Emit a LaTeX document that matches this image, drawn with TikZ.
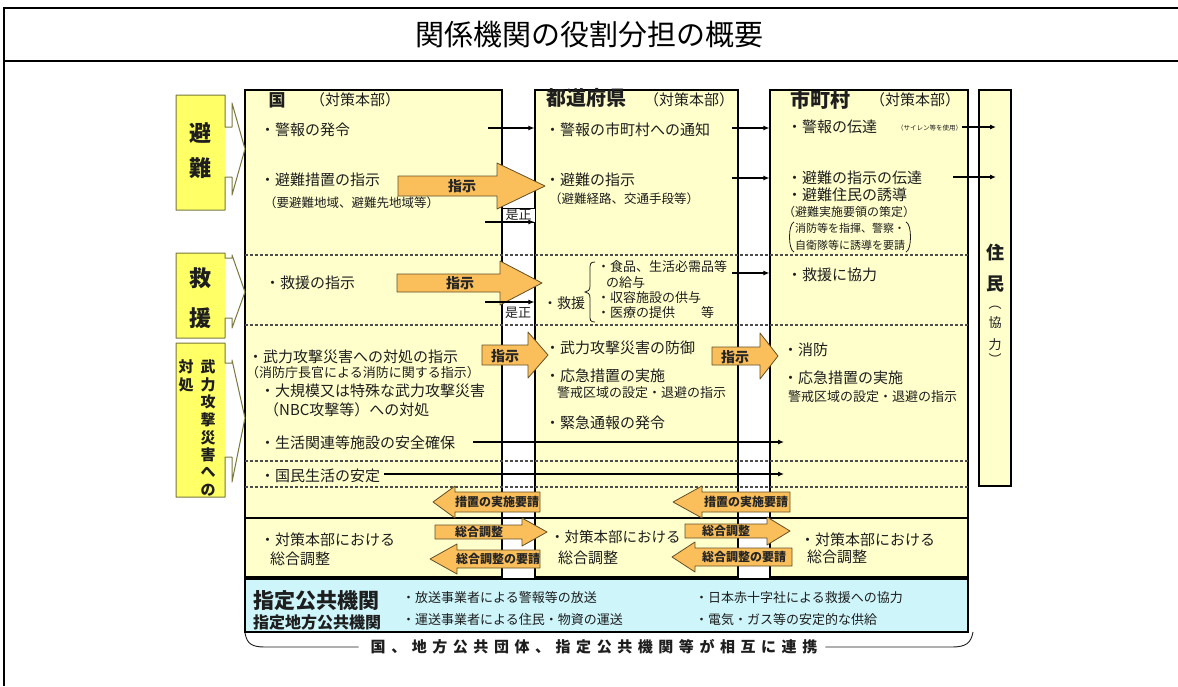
\documentclass[tikz,border=0pt]{standalone}
\usepackage{fontspec}
\setmainfont{Noto Sans CJK JP}
\usetikzlibrary{arrows.meta}
\definecolor{colfill}{RGB}{255,255,204}
\definecolor{lblfill}{RGB}{255,255,102}
\definecolor{lbldraw}{RGB}{120,120,60}
\definecolor{orfill}{RGB}{250,190,90}
\definecolor{ordraw}{RGB}{100,80,40}
\definecolor{bluefill}{RGB}{205,245,250}
\definecolor{ink}{RGB}{30,30,30}
\newcommand{\fsz}[1]{\fontsize{#1}{#1}\selectfont}
% tail x, head-base x, tip x, centre y, shaft half, head half
\newcommand{\orar}[6]{%
  \path[orarrow] (#1,#4-#5) -- (#2,#4-#5) -- (#2,#4-#6) -- (#3,#4) -- (#2,#4+#6) -- (#2,#4+#5) -- (#1,#4+#5) -- cycle;}
% top, bottom, shaft top, shaft bottom, head top, head bottom, tip y
\newcommand{\callout}[7]{%
  \fill[white] (225,#3) -- (232,#3) -- (232,#5) -- (245,#7) -- (232,#6) -- (232,#4) -- (225,#4) -- cycle;
  \fill[lblfill] (176,#1) rectangle (225,#2);
  \draw[lbldraw, line width=1pt, line join=round] (176,#1) -- (225,#1) -- (225,#3) -- (232,#3) -- (232,#5) -- (245,#7) -- (232,#6) -- (232,#4) -- (225,#4) -- (225,#2) -- (176,#2) -- cycle;}
\begin{document}
\begin{tikzpicture}[x=1pt,y=-1pt,
  txt/.style={anchor=west, inner sep=0pt, text=ink, font=\fsz{15}},
  sm/.style={txt, font=\fsz{12.5}},
  hdr/.style={inner sep=0pt, text=ink, font=\bfseries\fsz{20}},
  lbl/.style={inner sep=0pt, text=ink, font=\bfseries\fsz{22}},
  lbls/.style={inner sep=0pt, text=ink, font=\bfseries\fsz{15}},
  colbox/.style={draw=black, line width=1.1pt, fill=colfill, inner sep=0pt},
  sepline/.style={draw=black!70, line width=1.2pt, dash pattern=on 3pt off 2pt},
  conn/.style={draw=black, line width=1.1pt, -{Latex[length=6pt,width=5pt]}},
  orarrow/.style={fill=orfill, draw=ordraw, line width=0.8pt, line join=round},
  ortext/.style={inner sep=0pt, text=black!85, font=\bfseries\fsz{12.5}},
]
\useasboundingbox (0,0) rectangle (1178,686);
\fill[white] (0,0) rectangle (1178,686);
% frame
\draw[line width=2pt] (3,8) -- (1178,8);
\draw[line width=2pt] (3,61) -- (1178,61);
\draw[line width=2pt] (4,7) -- (4,686);
\node[inner sep=0pt, font=\fsz{29}] (title) at (589,35) {関係機関の役割分担の概要};

% columns
\node[colbox, minimum width=257pt, minimum height=487pt] (kuni) at (373.5,333.5) {};
\node[colbox, minimum width=203pt, minimum height=487pt] (todo) at (636.5,333.5) {};
\node[colbox, minimum width=198pt, minimum height=487pt] (shi) at (869,333.5) {};
\node[colbox, minimum width=32pt, minimum height=396pt] (jumin) at (995,288) {};
\node[draw=black, line width=1.1pt, fill=bluefill, minimum width=723pt, minimum height=53pt, inner sep=0pt] (kikan) at (606.5,605.5) {};

% row separators
\foreach \yy in {255,325,461,487} \draw[sepline] (245,\yy) -- (968,\yy);
\draw[line width=1.1pt] (245,518) -- (968,518);

% left labels
\callout{95}{210}{127}{177}{103}{195}{149}
\node[lbl] (hin1) at (200,133) {避};
\node[lbl] (hin2) at (200,168) {難};
\callout{253}{338}{258}{318}{255}{328}{292}
\node[lbl] (kyu1) at (200,278) {救};
\node[lbl] (kyu2) at (200,318) {援};
\callout{343}{497}{363}{457}{360}{482}{418}
\node[lbls] (tai1) at (186,367) {対};
\node[lbls] (tai2) at (186,385) {処};
\foreach \c [count=\i from 0] in {武,力,攻,撃,災,害,へ,の}
  \node[lbls] (bu\i) at (208,367+17.6*\i) {\c};

% 国 column
\node[hdr, font=\bfseries\fsz{17}] (kh1) at (277,100) {国};
\node[inner sep=0pt, text=ink, font=\fsz{15}] (kh2) at (355,100) {（対策本部）};
\node[txt] (k1) at (260,130) {・警報の発令};
\node[txt] (k2) at (260,180) {・避難措置の指示};
\node[sm] (k2s) at (264,203) {（要避難地域、避難先地域等）};
\node[txt] (k3) at (265,283) {・救援の指示};
\node[txt] (k4) at (248,357) {・武力攻撃災害への対処の指示};
\node[sm, font=\fsz{13}] (k4s) at (246,373) {（消防庁長官による消防に関する指示）};
\node[txt] (k5) at (260,391) {・大規模又は特殊な武力攻撃災害};
\node[txt] (k5s) at (264,410) {（NBC攻撃等）への対処};
\node[txt] (k6) at (260,443) {・生活関連等施設の安全確保};
\node[txt] (k7) at (260,476) {・国民生活の安定};
\node[txt] (k8) at (260,540) {・対策本部における};
\node[txt] (k8b) at (270,559) {総合調整};

% 都道府県 column
\node[hdr] (th1) at (586,98) {都道府県};
\node[inner sep=0pt, text=ink, font=\fsz{15}] (th2) at (689,100) {（対策本部）};
\node[txt] (t1) at (545,130) {・警報の市町村への通知};
\node[txt] (t2) at (545,180) {・避難の指示};
\node[sm] (t2s) at (549,199) {（避難経路、交通手段等）};
\node[txt, font=\fsz{14}] (t3) at (543,303) {・救援};
\draw[ink, line width=0.8pt] (595,262) .. controls (590,262) and (590,264) .. (590,270) -- (590,286) .. controls (590,290) and (588,292) .. (585,292) .. controls (588,292) and (590,294) .. (590,298) -- (590,315) .. controls (590,320) and (590,322) .. (595,322);
\node[txt, font=\fsz{13}] (t3a) at (597,267) {・食品、生活必需品等};
\node[txt, font=\fsz{13}] (t3b) at (606,283) {の給与};
\node[txt, font=\fsz{13}] (t3c) at (597,298) {・収容施設の供与};
\node[txt, font=\fsz{13}] (t3d) at (597,313) {・医療の提供　　等};
\node[txt] (t4) at (545,348) {・武力攻撃災害の防御};
\node[txt] (t5) at (545,376) {・応急措置の実施};
\node[txt, font=\fsz{13}] (t5s) at (557,393) {警戒区域の設定・退避の指示};
\node[txt] (t6) at (545,423) {・緊急通報の発令};
\node[txt, font=\fsz{14.5}] (t7) at (550,537) {・対策本部における};
\node[txt] (t7b) at (558,558) {総合調整};

% 市町村 column
\node[hdr] (sh1) at (820,100) {市町村};
\node[inner sep=0pt, text=ink, font=\fsz{15}] (sh2) at (915,100) {（対策本部）};
\node[txt] (s1) at (787,127) {・警報の伝達};
\node[txt, font=\fsz{6.5}] (s1s) at (897,128) {（サイレン等を使用）};
\node[txt] (s2) at (787,178) {・避難の指示の伝達};
\node[txt] (s3) at (787,195) {・避難住民の誘導};
\node[sm, font=\fsz{12}] (s3s) at (783,212) {（避難実施要領の策定）};
\node[txt, font=\fsz{11}] (s3a) at (795,228) {消防等を指揮、警察・};
\node[txt, font=\fsz{11}] (s3b) at (795,245) {自衛隊等に誘導を要請};
\draw[ink, line width=0.8pt] (794,222) .. controls (788,224) and (788,250) .. (794,252);
\draw[ink, line width=0.8pt] (906,222) .. controls (912,224) and (912,250) .. (906,252);
\node[txt] (s4) at (787,275) {・救援に協力};
\node[txt] (s5) at (783,350) {・消防};
\node[txt] (s6) at (783,378) {・応急措置の実施};
\node[txt, font=\fsz{13}] (s6s) at (788,397) {警戒区域の設定・退避の指示};
\node[txt] (s7) at (800,540) {・対策本部における};
\node[txt] (s7b) at (807,557) {総合調整};

% 住民
\node[inner sep=0pt, text=ink, font=\bfseries\fsz{18}] (j1) at (995,253) {住};
\node[inner sep=0pt, text=ink, font=\bfseries\fsz{18}] (j2) at (995,284) {民};
\node[inner sep=0pt, text=ink, font=\fsz{13}] (j3) at (995,308) {︵};
\node[inner sep=0pt, text=ink, font=\fsz{13}] (j4) at (995,323) {協};
\node[inner sep=0pt, text=ink, font=\fsz{13}] (j5) at (995,345) {力};
\node[inner sep=0pt, text=ink, font=\fsz{13}] (j6) at (995,359) {︶};

% blue box texts
\node[txt, font=\bfseries\fsz{21}] (b1) at (253,601) {指定公共機関};
\node[txt, font=\bfseries\fsz{16}] (b2) at (253,622) {指定地方公共機関};
\node[txt, font=\fsz{13}] (b3) at (402,598) {・放送事業者による警報等の放送};
\node[txt, font=\fsz{13}] (b4) at (402,620) {・運送事業者による住民・物資の運送};
\node[txt, font=\fsz{13}] (b5) at (695,598) {・日本赤十字社による救援への協力};
\node[txt, font=\fsz{13}] (b6) at (695,620) {・電気・ガス等の安定的な供給};

% bottom bracket
\node[inner sep=0pt, text=ink, font=\bfseries\fsz{15}\addfontfeature{LetterSpace=37}] (bt) at (594,647) {国、地方公共団体、指定公共機関等が相互に連携};
\draw[ink, line width=0.9pt] (245,633) .. controls (247,644) and (252,647) .. (265,647) -- ([xshift=-12pt]bt.west);
\draw[ink, line width=0.9pt] ([xshift=8pt]bt.east) -- (952,647) .. controls (966,647) and (971,643) .. (973,632);

% orange arrows
\orar{398}{497}{545}{186}{10}{23}
\node[ortext, font=\bfseries\fsz{14}] (o1) at (462,186) {指示};
\orar{397}{500}{542}{283}{9}{22}
\node[ortext, font=\bfseries\fsz{14}] (o2) at (460,283) {指示};
\orar{482}{528}{548}{355}{10}{23}
\node[ortext, font=\bfseries\fsz{14}] (o3) at (505,356) {指示};
\orar{712}{760}{778}{356}{9}{23}
\node[ortext, font=\bfseries\fsz{14}] (o4) at (735,357) {指示};
\orar{540}{455}{433}{502}{10}{16}
\node[ortext, font=\bfseries\fsz{12}] (o5) at (497,502) {措置の実施要請};
\orar{790}{702}{673}{502}{10}{16}
\node[ortext, font=\bfseries\fsz{12}] (o6) at (746,502) {措置の実施要請};
\orar{435}{522}{547}{532}{7}{14}
\node[ortext, font=\bfseries\fsz{12}] (o7) at (479,532) {総合調整};
\orar{540}{457}{430}{559}{9}{15}
\node[ortext, font=\bfseries\fsz{12}] (o8) at (498,559) {総合調整の要請};
\orar{685}{767}{790}{531}{7}{14}
\node[ortext, font=\bfseries\fsz{12}] (o9) at (726,531) {総合調整};
\orar{792}{695}{672}{557}{9}{15}
\node[ortext, font=\bfseries\fsz{12}] (o10) at (744,557) {総合調整の要請};

% 是正
\node[draw=black, line width=0.8pt, fill=white, minimum width=33pt, minimum height=14pt, inner sep=0pt, text=ink, font=\fsz{13}] (ze1) at (518.5,215) {是正};
\node[inner sep=0pt, text=ink, font=\fsz{13}] (ze2) at (518,313) {是正};

% connectors
\coordinate (c1) at (488,128);
\draw[conn] (c1) -- (c1 -| todo.west);
\coordinate (c2) at (485,222);
\draw[conn] (c2) -- (c2 -| todo.west);
\coordinate (c3) at (485,302);
\draw[conn] (c3) -- (c3 -| todo.west);
\coordinate (c4) at (732,128);
\draw[conn] (c4) -- (c4 -| shi.west);
\coordinate (c5) at (732,178);
\draw[conn] (c5) -- (c5 -| shi.west);
\coordinate (c6) at (732,273);
\draw[conn] (c6) -- (c6 -| shi.west);
\coordinate (c7) at (962,127);
\coordinate (c7e) at (996,127);
\draw[conn] (c7) -- (c7e);
\coordinate (c8) at (953,177);
\coordinate (c8e) at (996,177);
\draw[conn] (c8) -- (c8e);
\coordinate (c9) at (473,442);
\coordinate (c9e) at (784,442);
\draw[conn] (c9) -- (c9e);
\coordinate (c10) at (384,474);
\coordinate (c10e) at (784,474);
\draw[conn] (c10) -- (c10e);
\end{tikzpicture}
\end{document}
